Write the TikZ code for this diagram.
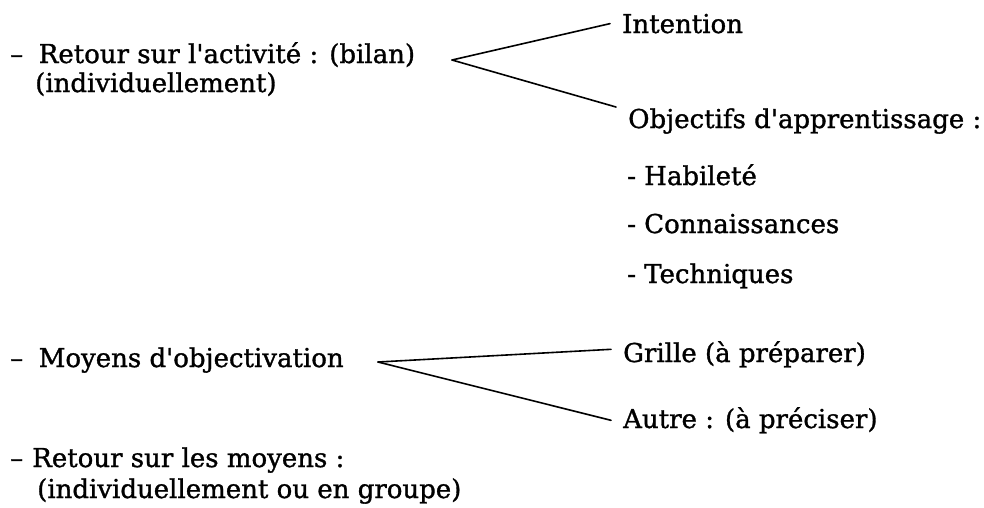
\documentclass[tikz,border=0pt]{standalone}
\usepackage{fontspec}
\setmainfont{DejaVu Serif}[FakeBold=1.2]
\usetikzlibrary{positioning}
\tikzstyle{sheet} = [x = 1pt, y = -1pt]
\tikzstyle{itemText} = [anchor=base west, inner sep=0pt, font=\fontsize{26}{31}\selectfont]
\tikzstyle{branchLine} = [color=black, line width=1.6pt, line cap=round]
\newcommand{\ap}{\textquotesingle}
\newcommand{\branch}[3]{\draw [branchLine] (#1) -- ([xshift=-12pt, yshift=#3]#2.west);}

\begin{document}
\begin{tikzpicture}[sheet]
    \useasboundingbox (0,0) rectangle (984,507);
    % first block
    \node [itemText] (retour) at (10,63) {–\hspace{0.6em}Retour sur l\ap activité : (bilan)};
    \node [itemText] (indiv) at (35,92) {(individuellement)};
    \coordinate (forkA) at (452,60);
    \node [itemText] (intention) at (622,33) {Intention};
    \node [itemText] (objectifs) at (628,128) {Objectifs d\ap apprentissage :};
    \branch{forkA}{intention}{0pt}
    \branch{forkA}{objectifs}{14pt}
    \node [itemText] (habilete) at (627,185) {- Habileté};
    \node [itemText] (connaissances) at (627,233) {- Connaissances};
    \node [itemText] (techniques) at (627,283) {- Techniques};
    % second block
    \node [itemText] (moyens) at (10,367) {–\hspace{0.6em}Moyens d\ap objectivation};
    \coordinate (forkB) at (378,362);
    \node [itemText] (grille) at (623,362) {Grille (à préparer)};
    \node [itemText] (autre) at (623,428) {Autre : (à préciser)};
    \branch{forkB}{grille}{5pt}
    \branch{forkB}{autre}{0pt}
    % third block
    \node [itemText] (retourMoyens) at (10,467) {–\hspace{0.35em}Retour sur les moyens :};
    \node [itemText] (groupe) at (37,498) {(individuellement ou en groupe)};
\end{tikzpicture}
\end{document}
